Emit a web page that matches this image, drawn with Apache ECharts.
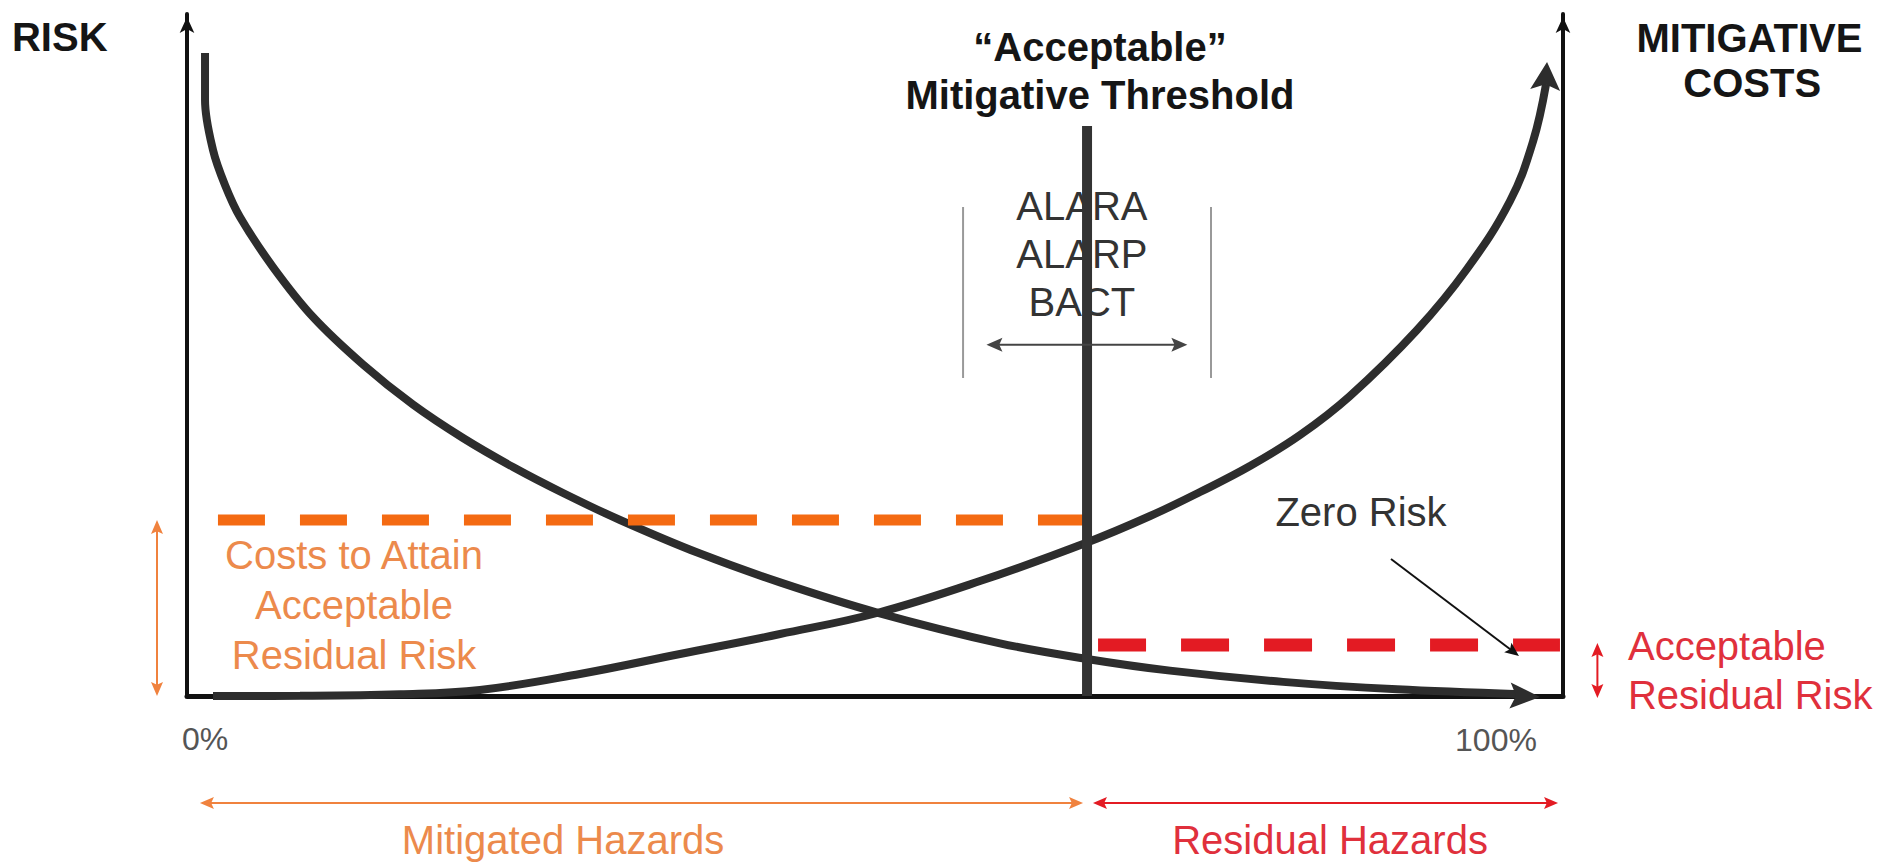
<!DOCTYPE html>
<html><head><meta charset="utf-8">
<script src="https://cdn.jsdelivr.net/npm/echarts@6/dist/echarts.min.js"></script>
<style>html,body{margin:0;padding:0;background:#fff}#chart{width:1889px;height:864px}</style>
</head><body><div id="chart"></div>
<script>
// ---- data (x: % of hazards mitigated, y: relative level 0-100) ----
const riskCurve = [
  [1.31,94.28],[1.31,87.39],[1.89,80.06],[2.76,74.93],[3.85,70.23],[6.25,62.90],[9.16,55.57],
  [12.79,48.61],[16.42,42.74],[20.06,37.83],[23.69,33.58],[27.33,29.77],[31.47,25.81],[37.28,20.88],
  [43.10,16.66],[50.15,12.24],[59.08,7.73],[65.41,5.43],[71.44,3.72],[79.65,2.07],[87.94,0.98],[96.88,0.26]
];
const costCurve = [
  [1.89,0.0],[8.21,0.03],[15.48,0.25],[21.29,0.88],[28.56,3.23],[35.83,6.16],[43.10,9.09],
  [50.15,12.17],[57.63,16.85],[65.41,22.51],[69.99,26.39],[73.62,29.91],[77.25,33.72],[80.89,38.27],
  [84.52,44.0],[89.39,53.67],[93.02,62.61],[96.15,72.58],[97.82,81.3],[98.77,89.74]
];
const riskHead = [[95.42,0.15,98.33,-0.15]];
const costHead = [[98.69,88.4,98.84,92.96]];
const thresholdX = 65.41;
const thresholdTop = 83.58;
const costLevel = 25.81;         // costs to attain acceptable residual risk
const costLevelStart = 2.25;
const residualLevel = 7.48;      // acceptable residual risk
const residualEnd = 99.78;
const alaraBounds = [56.40, 74.42];
const alaraSpan = [71.70, 46.63];
const alaraArrow = [[58.1,51.5,72.7,51.5]];
const orangeArrows = [[-2.18,25.81,-2.18,0],[0.94,-15.7,65.12,-15.7]];
const redArrows = [[102.5,7.77,102.5,-0.29],[65.84,-15.7,99.64,-15.7]];
const zeroRiskPointer = [[87.5,20.09,96.8,5.87]];
const tickLabels = ['0%', '100%'];
const texts = {
  risk: 'RISK',
  costs: ['MITIGATIVE', 'COSTS'],
  threshold: ['\u201CAcceptable\u201D', 'Mitigative Threshold'],
  alara: ['ALARA', 'ALARP', 'BACT'],
  zero: 'Zero Risk',
  costNote: ['Costs to Attain', 'Acceptable', 'Residual Risk'],
  residualNote: ['Acceptable', 'Residual Risk'],
  mitigated: 'Mitigated Hazards',
  residual: 'Residual Hazards'
};

// ---- styles / layout ----
const FONT = '"Liberation Sans", Arial, sans-serif';
const DARK = '#2d2d2d';
const ORANGE = '#F46A12';
const ORANGE_T = '#EC8A4C';
const RED = '#E31B23';
const RED_T = '#E0303C';

const labelItems = [
  {t: texts.risk, x: -12.72, y: 96.63, w: 'bold', s: 40, c: '#151515', a: 'left'},
  {t: texts.costs[0], x: 113.55, y: 96.55, w: 'bold', s: 40, c: '#151515', a: 'center'},
  {t: texts.costs[1], x: 113.75, y: 89.88, w: 'bold', s: 40, c: '#151515', a: 'center'},
  {t: texts.threshold[0], x: 66.35, y: 95.16, w: 'bold', s: 40, c: '#151515', a: 'center'},
  {t: texts.threshold[1], x: 66.35, y: 88.12, w: 'bold', s: 40, c: '#151515', a: 'center'},
  {t: texts.alara[0], x: 65.04, y: 71.85, w: 'normal', s: 40, c: '#333', a: 'center'},
  {t: texts.alara[1], x: 65.04, y: 64.81, w: 'normal', s: 40, c: '#333', a: 'center'},
  {t: texts.alara[2], x: 65.04, y: 57.77, w: 'normal', s: 40, c: '#333', a: 'center'},
  {t: texts.zero, x: 85.32, y: 26.91, w: 'normal', s: 40, c: '#333', a: 'center'},
  {t: texts.costNote[0], x: 12.14, y: 20.67, w: 'normal', s: 40, c: ORANGE_T, a: 'center'},
  {t: texts.costNote[1], x: 12.14, y: 13.34, w: 'normal', s: 40, c: ORANGE_T, a: 'center'},
  {t: texts.costNote[2], x: 12.14, y: 6.01, w: 'normal', s: 40, c: ORANGE_T, a: 'center'},
  {t: texts.residualNote[0], x: 104.72, y: 7.33, w: 'normal', s: 40, c: RED_T, a: 'left'},
  {t: texts.residualNote[1], x: 104.72, y: 0.15, w: 'normal', s: 40, c: RED_T, a: 'left'},
  {t: tickLabels[0], x: 1.31, y: -6.30, w: 'normal', s: 32, c: '#555', a: 'center'},
  {t: tickLabels[1], x: 95.13, y: -6.45, w: 'normal', s: 32, c: '#555', a: 'center'},
  {t: texts.mitigated, x: 27.33, y: -21.11, w: 'normal', s: 40, c: ORANGE_T, a: 'center'},
  {t: texts.residual, x: 83.07, y: -21.11, w: 'normal', s: 40, c: RED_T, a: 'center'}
];

function arrowSeries(data, color, width, headLen, headW, both, drawLine, z) {
  return {
    type: 'custom', coordinateSystem: 'cartesian2d', silent: true, z: z || 5,
    encode: {x: [0, 2], y: [1, 3]},
    data: data,
    renderItem: function (params, api) {
      const a = api.coord([api.value(0), api.value(1)]);
      const b = api.coord([api.value(2), api.value(3)]);
      const dx = b[0] - a[0], dy = b[1] - a[1];
      const len = Math.sqrt(dx * dx + dy * dy) || 1;
      const ux = dx / len, uy = dy / len, nx = -uy, ny = ux;
      function head(tip, sx, sy) {
        return {
          type: 'polygon',
          shape: {points: [
            [tip[0], tip[1]],
            [tip[0] - sx * headLen + nx * headW, tip[1] - sy * headLen + ny * headW],
            [tip[0] - sx * headLen * 0.8, tip[1] - sy * headLen * 0.8],
            [tip[0] - sx * headLen - nx * headW, tip[1] - sy * headLen - ny * headW]
          ]},
          style: {fill: color}
        };
      }
      const children = [];
      if (drawLine) {
        const s = both ? [a[0] + ux * headLen * 0.7, a[1] + uy * headLen * 0.7] : a;
        const e = [b[0] - ux * headLen * 0.7, b[1] - uy * headLen * 0.7];
        children.push({type: 'line', shape: {x1: s[0], y1: s[1], x2: e[0], y2: e[1]},
          style: {stroke: color, lineWidth: width}});
      }
      children.push(head(b, ux, uy));
      if (both) children.push(head(a, -ux, -uy));
      return {type: 'group', children: children};
    }
  };
}

function seg(x1, y1, x2, y2) { return [[x1, y1], [x2, y2]]; }

const chart = echarts.init(document.getElementById('chart'), null, {renderer: 'svg'});
const yAxisBase = {
  type: 'value', min: 0, max: 100,
  axisLine: {show: true, onZero: false, symbol: ['none', 'arrow'], symbolSize: [11, 16],
    symbolOffset: [0, -3], lineStyle: {color: '#111', width: 4}},
  axisTick: {show: false}, axisLabel: {show: false}, splitLine: {show: false}
};
chart.setOption({
  animation: false,
  backgroundColor: '#ffffff',
  grid: {left: 187, right: 326, top: 14, bottom: 168, containLabel: false},
  xAxis: {type: 'value', min: 0, max: 100,
    axisLine: {show: true, onZero: false, lineStyle: {color: '#111', width: 5}},
    axisTick: {show: false}, axisLabel: {show: false}, splitLine: {show: false}},
  yAxis: [Object.assign({position: 'left'}, yAxisBase), Object.assign({position: 'right'}, yAxisBase)],
  series: [
    {type: 'line', name: 'Risk', data: riskCurve, smooth: 0.35, showSymbol: false, silent: true,
      clip: false, z: 2, lineStyle: {color: DARK, width: 8, cap: 'butt'}},
    {type: 'line', name: 'Mitigative costs', data: costCurve, smooth: 0.4,
      showSymbol: false, silent: true,
      clip: false, z: 2, lineStyle: {color: DARK, width: 8, cap: 'butt'}},
    arrowSeries(riskHead, DARK, 0, 30, 13, false, false, 3),
    arrowSeries(costHead, DARK, 0, 28, 15, false, false, 3),
    {type: 'line', name: 'Cost level', data: seg(costLevelStart, costLevel, thresholdX, costLevel),
      showSymbol: false, silent: true, z: 3,
      lineStyle: {color: ORANGE, width: 11, type: [47, 35], cap: 'butt'}},
    {type: 'line', name: 'Residual level', data: seg(thresholdX + 0.8, residualLevel, residualEnd, residualLevel),
      showSymbol: false, silent: true, z: 3,
      lineStyle: {color: RED, width: 13, type: [48, 35], cap: 'butt'}},
    {type: 'line', name: 'Threshold', data: seg(thresholdX, 0, thresholdX, thresholdTop),
      showSymbol: false, silent: true, z: 4, lineStyle: {color: '#333', width: 10, cap: 'butt'}},
    {type: 'line', data: seg(alaraBounds[0], alaraSpan[0], alaraBounds[0], alaraSpan[1]),
      showSymbol: false, silent: true, z: 3, lineStyle: {color: '#999', width: 2}},
    {type: 'line', data: seg(alaraBounds[1], alaraSpan[0], alaraBounds[1], alaraSpan[1]),
      showSymbol: false, silent: true, z: 3, lineStyle: {color: '#999', width: 2}},
    arrowSeries(alaraArrow, '#444', 2, 16, 7, true, true, 5),
    arrowSeries(orangeArrows, '#F0823E', 2, 14, 6, true, true, 5),
    arrowSeries(redArrows, RED, 2, 14, 6, true, true, 5),
    arrowSeries(zeroRiskPointer, '#111', 2, 14, 6, false, true, 6),
    {
      type: 'custom', coordinateSystem: 'cartesian2d', silent: true, z: 7,
      data: labelItems.map(function (d) { return [d.x, d.y]; }),
      renderItem: function (params, api) {
        const d = labelItems[params.dataIndex];
        const p = api.coord([api.value(0), api.value(1)]);
        return {
          type: 'text', x: p[0], y: p[1],
          style: {text: d.t, fill: d.c, fontSize: d.s, fontWeight: d.w, fontFamily: FONT,
            align: d.a, verticalAlign: 'middle'}
        };
      }
    }
  ]
});
</script>
</body></html>
